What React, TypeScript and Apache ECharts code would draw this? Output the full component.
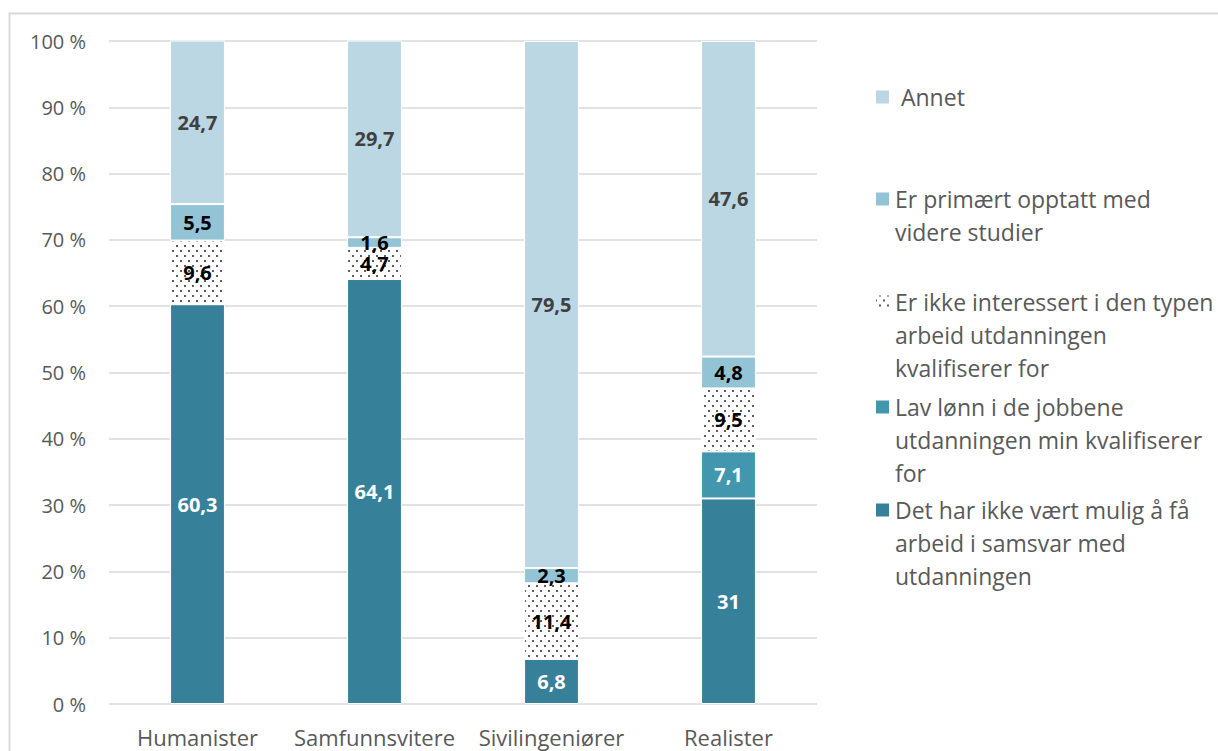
import React, { useEffect, useRef } from 'react';
import * as echarts from 'echarts';

const categories = ['Humanister', 'Samfunnsvitere', 'Sivilingeniører', 'Realister'];

const nameDet = 'Det har ikke vært mulig å få arbeid i samsvar med utdanningen';
const nameLav = 'Lav lønn i de jobbene utdanningen min kvalifiserer for';
const nameIkke = 'Er ikke interessert i den typen arbeid utdanningen kvalifiserer for';
const namePrim = 'Er primært opptatt med videre studier';
const nameAnnet = 'Annet';

const detHar = [60.3, 64.1, 6.8, 31];
const lavLonn = [0, 0, 0, 7.1];
const ikkeInteressert = [9.6, 4.7, 11.4, 9.5];
const videreStudier = [5.5, 1.6, 2.3, 4.8];
const annet = [24.7, 29.7, 79.5, 47.6];

const legendLines: Record<string, string[]> = {
  [nameAnnet]: [' Annet'],
  [namePrim]: ['Er primært opptatt med', 'videre studier'],
  [nameIkke]: ['Er ikke interessert i den typen', 'arbeid utdanningen', 'kvalifiserer for'],
  [nameLav]: ['Lav lønn i de jobbene', 'utdanningen min kvalifiserer', 'for'],
  [nameDet]: ['Det har ikke vært mulig å få', 'arbeid i samsvar med', 'utdanningen'],
};

const FONT = "'Open Sans', 'Noto Sans', sans-serif";

export default function App() {
  const ref = useRef<HTMLDivElement>(null);
  useEffect(() => {
    if (!ref.current) return;
    const chart = echarts.init(ref.current, null, { renderer: 'svg' });

    const fmt = (p: any) => (p.value ? String(p.value).replace('.', ',') : '');
    const mkLabel = (color: string) => ({
      show: true,
      position: 'inside',
      formatter: fmt,
      color,
      fontFamily: FONT,
      fontWeight: 'bold',
      fontSize: 20,
    });

    const mkSeries = (name: string, data: number[], color: string, labelColor: string, decal?: any) => ({
      name,
      type: 'bar',
      stack: 'total',
      barWidth: '31%',
      data,
      itemStyle: { color, borderColor: '#fff', borderWidth: 1, ...(decal ? { decal } : {}) },
      label: mkLabel(labelColor),
    });

    const dots = {
      symbol: 'rect',
      symbolSize: 0.85,
      color: '#000',
      dashArrayX: [[2, 6], [0, 4, 2, 2]],
      dashArrayY: [2, 3],
    };

    const lineH = 33;
    const legendSpec: [string, number][] = [
      [nameAnnet, 97],
      [namePrim, 199],
      [nameIkke, 302],
      [nameLav, 407],
      [nameDet, 510],
    ];
    const legends = legendSpec.map(([name, y]) => {
      const n = legendLines[name].length;
      const total = 2 * n - 1;
      const boxH = total * lineH;
      return {
        data: [name],
        left: 874,
        top: y - boxH / 2,
        orient: 'vertical',
        padding: 0,
        itemWidth: 15,
        itemHeight: 15,
        icon: 'rect',
        selectedMode: false,
        formatter: () => '\n'.repeat(n - 1) + legendLines[name].join('\n'),
        textStyle: {
          fontFamily: FONT,
          fontSize: 23,
          color: '#595959',
          lineHeight: lineH,
        },
      };
    });

    chart.setOption({
      animation: false,
      backgroundColor: '#fff',
      grid: { left: 109, right: 401, top: 41, bottom: 47, containLabel: false },
      graphic: [
        {
          type: 'rect',
          shape: { x: 9.5, y: 13.5, width: 1400, height: 1000 },
          style: { fill: 'none', stroke: '#d9d9d9', lineWidth: 2 },
          silent: true,
        },
      ],
      legend: legends,
      xAxis: {
        type: 'category',
        data: categories,
        axisLine: { show: false },
        axisTick: { show: false },
        axisLabel: { interval: 0, fontFamily: FONT, fontSize: 22, color: '#595959', margin: 22 },
      },
      yAxis: {
        type: 'value',
        min: 0,
        max: 100,
        interval: 10,
        axisLine: { show: false },
        axisTick: { show: false },
        splitLine: { lineStyle: { color: '#d9d9d9', width: 1.5 } },
        axisLabel: {
          fontFamily: FONT,
          fontSize: 20,
          color: '#595959',
          margin: 23,
          formatter: (v: number) => v + ' %',
        },
      },
      series: [
        mkSeries(nameDet, detHar, '#37809a', '#fff'),
        mkSeries(nameLav, lavLonn, '#4297ae', '#fff'),
        mkSeries(nameIkke, ikkeInteressert, '#fff', '#000', dots),
        mkSeries(namePrim, videreStudier, '#93c4d5', '#000'),
        mkSeries(nameAnnet, annet, '#bad7e3', '#404040'),
      ],
    });
    return () => chart.dispose();
  }, []);
  return (
    <div
      ref={ref}
      style={{ position: 'absolute', left: 0, top: 0, width: 1218, height: 751 }}
    />
  );
}
